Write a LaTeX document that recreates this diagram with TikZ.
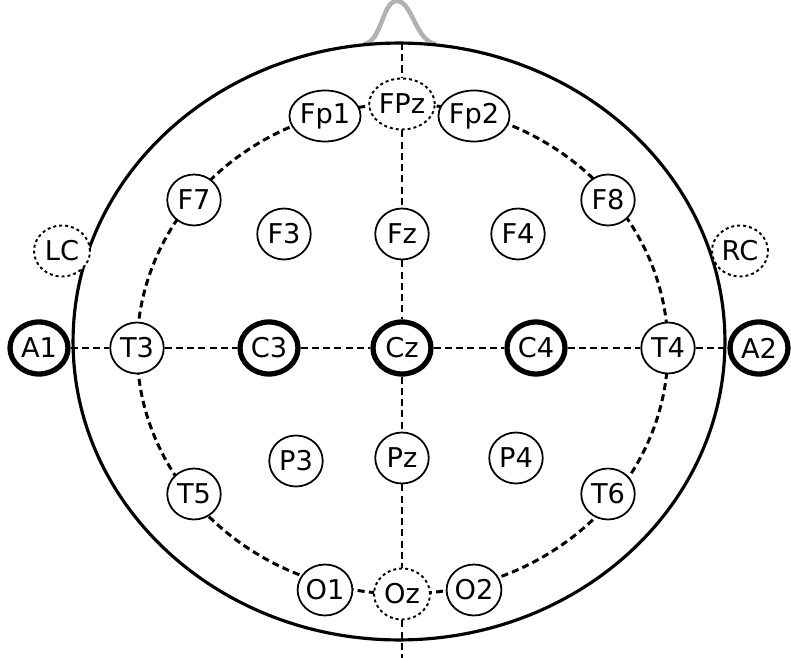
\documentclass[tikz,border=0pt]{standalone}
\usepackage{fontspec}
\setmainfont{DejaVu Sans}
\usetikzlibrary{shapes.geometric}
\begin{document}
\begin{tikzpicture}[
    x=0.02cm, y=-0.02cm,
    electrode/.style={ellipse, draw, line width=1pt, fill=white,
                  minimum width=1.07cm, minimum height=1.02cm,
                  inner sep=0pt, text centered,
                  font=\fontsize{15.5}{17}\selectfont},
    electroderef/.style={electrode, line width=1.1pt,
                  dash pattern=on 1.7pt off 1.7pt,
                  minimum width=1.12cm},
    electrodekey/.style={electrode, line width=3pt,
                  minimum width=1.16cm, minimum height=1.04cm},
    link/.style={line width=1.7pt, dash pattern=on 4pt off 2.4pt},
    headline/.style={line width=1.8pt}
]
    % Frame
    \useasboundingbox (0,0) rectangle (791,658);

    % Nose and head
    \draw[gray!60, line width=2.6pt] (364,44)
        .. controls (382,42) and (382,1) .. (397,1)
        .. controls (412,1) and (416,42) .. (436,44);
    \draw[headline, fill=white] (399,341.5) ellipse [x radius=6.52cm, y radius=5.97cm];

    % Dashed circumference
    \draw[link] (402.5,349) ellipse [x radius=5.31cm, y radius=4.9cm];

    % Ends of the midline
    \coordinate (top) at (402,43);
    \coordinate (bottom) at (402,658);

    % Frontal row
    \node[electrode]    (fp1) at (325,116) {Fp1};
    \node[electroderef] (fpz) at (402,104) {FPz};
    \node[electrode]    (fp2) at (474,116) {Fp2};
    \node[electrode]    (f7)  at (194,200) {F7};
    \node[electrode]    (f3)  at (284,234) {F3};
    \node[electrode]    (fz)  at (402,234) {Fz};
    \node[electrode]    (f4)  at (518,234) {F4};
    \node[electrode]    (f8)  at (608,200) {F8};

    % Reference sites
    \node[electroderef] (lc) at (62,251)  {LC};
    \node[electroderef] (rc) at (740,251) {RC};

    % Central row
    \node[electrodekey] (a1) at (39,348)  {A1};
    \node[electrode]    (t3) at (137,348) {T3};
    \node[electrodekey] (c3) at (269,348) {C3};
    \node[electrodekey] (cz) at (402,348) {Cz};
    \node[electrodekey] (c4) at (536,348) {C4};
    \node[electrode]    (t4) at (668,348) {T4};
    \node[electrodekey] (a2) at (759,348) {A2};

    % Parietal row
    \node[electrode] (t5) at (194,494) {T5};
    \node[electrode] (p3) at (296,461) {P3};
    \node[electrode] (pz) at (402,458) {Pz};
    \node[electrode] (p4) at (516,458) {P4};
    \node[electrode] (t6) at (608,494) {T6};

    % Occipital row
    \node[electrode]    (o1) at (325,590) {O1};
    \node[electroderef] (oz) at (402,594) {Oz};
    \node[electrode]    (o2) at (474,590) {O2};

    % Midlines
    \draw[link] (a1) -- (t3) -- (c3) -- (cz) -- (c4) -- (t4) -- (a2);
    \draw[link] (top) -- (fpz) -- (fz) -- (cz) -- (pz) -- (oz) -- (bottom);

\end{tikzpicture}
\end{document}
